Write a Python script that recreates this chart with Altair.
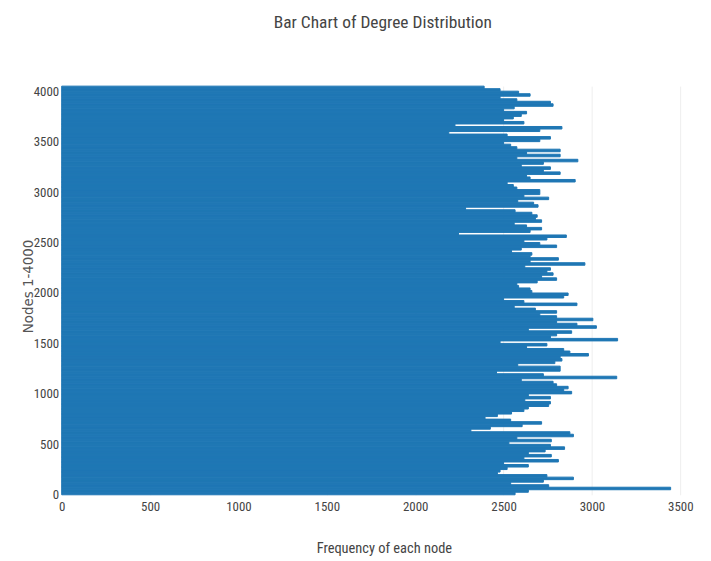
import altair as alt
import pandas as pd

# Frequency per group of 25 nodes, listed from the top (node ~4050) down to node 0
freq_top_down = [
    2390, 2480, 2585, 2650, 2480, 2575, 2765, 2780, 2560, 2500, 2630, 2600, 2555, 2500,
    2615, 2225, 2830, 2705, 2190, 2520, 2765, 2705, 2500, 2540, 2575, 2820, 2630, 2820,
    2575, 2920, 2725, 2600, 2765, 2725, 2820, 2630, 2650, 2905, 2520, 2555, 2575, 2705,
    2705, 2615, 2755, 2580, 2670, 2695, 2285, 2565, 2660, 2690, 2680, 2715, 2560, 2630,
    2715, 2650, 2245, 2855, 2745, 2615, 2705, 2800, 2600, 2545, 2660, 2650, 2810, 2650,
    2960, 2620, 2765, 2745, 2780, 2715, 2800, 2690, 2575, 2585, 2650, 2660, 2865,
    2840, 2500, 2615, 2915, 2560, 2680, 2800, 2705, 2800, 3005, 2800, 2915, 3025, 2640,
    2885, 2800, 2765, 3145, 2480, 2745, 2630, 2840, 2875, 2980, 2820, 2830, 2790, 2580,
    2820, 2820, 2460, 2725, 3140, 2600, 2780, 2800, 2865, 2840, 2885, 2640, 2765,
    2620, 2765, 2755, 2640, 2615, 2545, 2465, 2395, 2540, 2715, 2605, 2425, 2315, 2875,
    2895, 2575, 2770, 2530, 2765, 2845, 2735, 2640, 2770, 2615, 2810, 2500, 2640, 2520,
    2480, 2465, 2745, 2895, 2725, 2540, 2755, 3445, 2640, 2565,
]
group_size = 25

x_ticks = [0, 500, 1000, 1500, 2000, 2500, 3000, 3500]
y_ticks = [0, 500, 1000, 1500, 2000, 2500, 3000, 3500, 4000]

freqs = list(reversed(freq_top_down))
starts = [i * group_size for i in range(len(freqs))]
df = pd.DataFrame({
    "start": starts,
    "end": [s + group_size for s in starts],
    "base": [0] * len(freqs),
    "freq": freqs,
})

cond = "'Roboto Condensed', 'Open Sans', sans-serif"
txt = "#444444"

chart = alt.Chart(df).mark_rect(
    color="#1f77b4", stroke="#1f77b4", strokeWidth=1
).encode(
    x=alt.X("base:Q",
            scale=alt.Scale(domain=[0, 3600], nice=False, zero=True),
            axis=alt.Axis(values=x_ticks, format="d", grid=True, gridColor="#eeeeee", ticks=False,
                          domain=False, labelFont=cond, labelFontSize=13, labelColor=txt,
                          labelPadding=6, labelFlush=False,
                          title="Frequency of each node", titleFont=cond, titleFontSize=14.5,
                          titleColor=txt, titleFontWeight="normal", titleY=58, titleX=324,
                          titleAlign="center", titleBaseline="alphabetic")),
    x2="freq:Q",
    y=alt.Y("start:Q",
            scale=alt.Scale(domain=[0, 4050], nice=False, zero=True),
            axis=alt.Axis(values=y_ticks, format="d", grid=False, ticks=False, domain=False,
                          labelFont=cond, labelFontSize=13, labelColor=txt,
                          labelPadding=3, labelFlush=False,
                          title="Nodes 1-4000", titleFont="DejaVu Sans", titleFontSize=13.5,
                          titleColor="#555555", titleFontWeight="normal", titleAngle=270,
                          titleX=-29.5, titleY=201, titleBaseline="alphabetic",
                          titleAlign="center")),
    y2="end:Q",
).properties(
    width=640,
    height=411,
    title=alt.TitleParams("Bar Chart of Degree Distribution", font=cond, fontSize=17.5,
                          color=txt, fontWeight="normal", anchor="middle",
                          baseline="alphabetic", offset=40, dx=3),
    autosize=alt.AutoSizeParams(type="none"),
    padding={"left": 54, "top": 77, "right": 5, "bottom": 64},
).configure_view(stroke=None)

chart.save("out.html", embed_options={"renderer": "svg", "actions": False})
